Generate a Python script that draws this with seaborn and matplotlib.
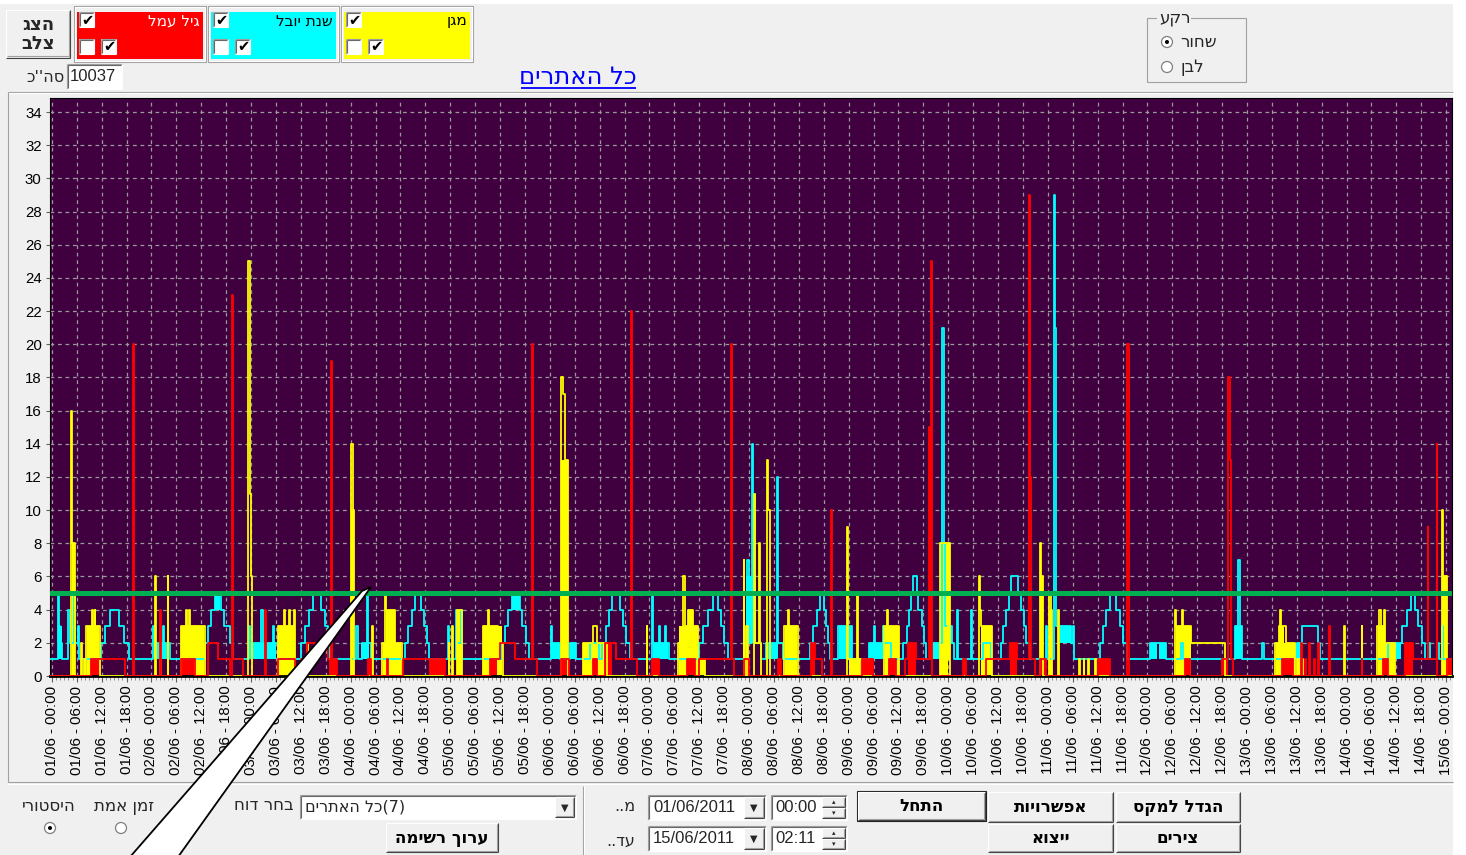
import matplotlib
matplotlib.use("Agg")
import matplotlib.pyplot as plt
from matplotlib.patches import Rectangle, Circle, Polygon
import numpy as np
import seaborn as sns

# ---- data (hours since 01/06 00:00) ----
# step change points (hour, value) for each site
cyan_steps = [(-0.5, 1),
    (1.4, 5), (1.6, 3), (2.0, 2), (2.4, 1), (4.0, 4), (4.3, 2), (5.3, 5), (5.6, 2), (6.2, 3), (6.6, 1),
    (11.8, 2), (12.8, 3), (13.9, 4), (16.2, 3), (17.3, 2), (18.6, 1),
    (24.3, 3), (24.6, 2), (26.7, 3), (27.0, 2), (28.5, 1),
    (36.8, 2), (37.6, 3), (38.3, 4), (39.2, 5), (40.7, 4), (41.6, 3), (42.9, 2), (43.6, 1),
    (47.4, 3), (47.7, 2), (50.5, 4), (50.8, 2), (53.2, 3), (53.5, 2), (54.4, 1),
    (60.0, 2), (61.0, 3), (62.0, 4), (63.0, 5), (64.8, 4), (65.8, 3), (66.5, 2), (67.0, 1),
    (73.4, 3), (73.7, 1), (74.8, 2), (75.9, 5), (76.2, 2), (76.8, 1),
    (85.0, 2), (85.8, 3), (86.7, 4), (87.4, 5), (88.9, 4), (89.6, 3), (90.3, 2), (91.0, 1),
    (95.5, 3), (95.8, 1), (97.4, 4), (97.7, 2), (98.6, 4), (98.9, 1),
    (108.4, 2), (109.1, 3), (109.8, 4), (110.8, 5), (112.7, 4), (113.4, 3), (114.2, 2), (115.0, 1),
    (120.3, 3), (120.6, 2), (122.5, 1), (124.8, 2), (126.4, 1), (129.6, 2), (131.8, 1),
    (132.5, 2), (133.5, 3), (134.3, 4), (135.0, 5), (136.8, 4), (137.7, 3), (138.4, 2), (139.2, 1),
    (144.5, 5), (144.8, 2), (146.3, 3), (146.6, 2), (147.8, 3), (148.1, 2), (148.6, 1),
    (156.0, 2), (157.0, 3), (158.2, 4), (159.4, 5), (160.6, 4), (161.3, 3), (162.0, 2), (163.0, 1),
    (166.9, 2), (167.6, 7), (167.9, 2), (168.6, 14), (168.9, 6), (169.2, 11), (169.4, 2), (171.0, 1),
    (172.0, 2), (174.8, 12), (175.1, 2), (176.2, 1),
    (182.6, 2), (183.4, 3), (184.3, 4), (185.0, 5), (186.0, 4), (186.6, 3), (187.0, 2), (187.6, 1),
    (189.5, 3), (192.7, 1), (196.8, 2), (198.0, 3), (198.3, 2), (200.2, 3), (200.5, 2), (202.3, 1),
    (205.2, 2), (206.0, 3), (206.5, 4), (207.1, 5), (207.6, 6), (208.4, 5), (208.8, 4), (209.6, 3), (210.1, 2), (210.7, 1),
    (211.7, 2), (214.6, 21), (214.9, 8), (215.2, 3), (217.0, 2), (217.3, 1), (218.0, 4), (218.3, 1),
    (221.5, 4), (221.8, 1), (224.5, 2), (226.2, 1),
    (228.6, 2), (229.3, 3), (230.0, 4), (230.6, 5), (231.2, 6), (232.9, 5), (233.5, 4), (234.2, 3), (234.8, 2), (235.8, 1),
    (239.6, 3), (239.9, 1), (241.4, 29), (241.7, 21), (241.9, 3), (245.7, 2), (246.0, 3), (246.3, 1),
    (252.6, 2), (253.3, 3), (254.0, 4), (255.0, 5), (256.5, 4), (257.5, 3), (258.2, 2), (259.0, 1),
    (264.7, 2), (268.5, 1), (272.0, 2), (272.6, 1), (285.0, 3), (285.9, 7), (286.2, 3), (286.8, 1),
    (291.6, 2), (292.0, 1), (300.0, 2), (301.3, 3), (305.0, 2), (305.6, 1),
    (322.0, 2), (325.4, 3), (326.6, 4), (327.5, 5), (328.4, 4), (329.3, 3), (330.2, 2), (331.0, 1),
    (331.7, 2), (332.2, 1), (333.8, 2), (334.3, 1), (335.0, 3), (335.3, 1), (338.0, 1)]

yellow_steps = [(-0.5, 0),
    (4.7, 16), (4.9, 8), (5.6, 0), (7.0, 2), (7.2, 0), (7.8, 1), (8.0, 0),
    (8.3, 3), (9.6, 4), (9.8, 3), (10.3, 4), (10.5, 3), (11.5, 0),
    (24.8, 6), (25.0, 0), (26.0, 2), (26.2, 0), (27.9, 6), (28.1, 0),
    (31.0, 3), (32.3, 4), (32.6, 3), (33.1, 4), (33.4, 3), (36.8, 0),
    (47.2, 25), (47.8, 11), (48.0, 6), (48.2, 0),
    (54.4, 3), (56.0, 4), (56.3, 3), (57.2, 4), (57.5, 3), (58.3, 4), (58.6, 0), (61.4, 2), (61.7, 0),
    (72.2, 14), (72.5, 10), (72.9, 0), (77.2, 3), (77.4, 0),
    (79.6, 2), (80.3, 5), (80.6, 4), (82.8, 2), (84.3, 0),
    (95.6, 2), (95.8, 0), (96.5, 3), (96.7, 0), (97.7, 4), (98.9, 0),
    (103.8, 3), (105.0, 4), (105.3, 3), (107.5, 2), (108.6, 0),
    (122.8, 18), (123.1, 17), (123.6, 13), (124.3, 0),
    (127.9, 2), (130.3, 3), (131.3, 2), (133.7, 0), (143.3, 3), (143.5, 0),
    (151.0, 2), (152.2, 6), (152.5, 3), (153.4, 4), (154.4, 3), (155.8, 0), (156.0, 1), (157.3, 0),
    (166.7, 7), (166.9, 0), (167.3, 3), (167.8, 0), (169.2, 11), (169.4, 2), (170.5, 8), (170.7, 2), (171.0, 0),
    (172.4, 13), (172.6, 10), (173.0, 0),
    (176.5, 3), (177.3, 4), (177.6, 3), (179.7, 0),
    (191.6, 9), (191.8, 1), (194.0, 5), (194.2, 1), (195.0, 0),
    (200.6, 3), (201.2, 4), (201.5, 3), (204.2, 0),
    (213.9, 8), (216.0, 1), (216.3, 8), (216.5, 0),
    (223.4, 6), (223.7, 4), (224.0, 3), (226.6, 0),
    (238.0, 8), (238.3, 6), (238.8, 0), (240.4, 5), (240.8, 4), (241.1, 0), (242.4, 4), (242.6, 0),
    (247.6, 1), (247.8, 0), (248.6, 1), (248.8, 0), (249.8, 1), (250.0, 0), (251.4, 1), (251.6, 0),
    (270.7, 4), (271.0, 3), (272.3, 4), (272.6, 3), (274.4, 2), (282.8, 0),
    (294.8, 2), (295.6, 3), (296.0, 4), (296.3, 3), (297.3, 2), (299.6, 0), (300.1, 1), (301.5, 0),
    (311.3, 3), (311.5, 0), (315.6, 3), (315.8, 0),
    (319.4, 3), (319.9, 4), (320.2, 3), (321.0, 4), (321.3, 2), (323.7, 0),
    (335.0, 10), (335.3, 6), (336.2, 0), (338.0, 0)]

red_steps = [(-0.5, 0),
    (9.4, 1), (17.6, 0), (19.5, 20), (19.8, 0), (26.1, 4), (26.3, 0),
    (31.0, 1), (34.5, 0), (37.6, 2), (40.0, 1), (43.0, 0), (43.4, 23), (43.7, 1), (46.0, 0),
    (51.4, 4), (51.6, 0), (54.4, 1), (58.5, 0),
    (60.0, 1), (61.5, 2), (66.5, 1), (67.2, 19), (67.5, 1), (68.6, 0),
    (76.1, 1), (77.0, 0), (80.7, 1), (81.0, 0), (84.5, 1), (94.7, 0),
    (105.5, 1), (107.9, 2), (111.5, 1), (115.6, 20), (115.9, 1), (117.0, 0),
    (122.6, 1), (124.6, 0), (130.3, 1), (131.4, 0), (133.2, 2), (136.0, 1), (139.5, 22), (139.8, 1), (141.0, 0),
    (144.5, 1), (146.2, 0), (153.0, 1), (154.9, 0),
    (156.0, 1), (163.6, 20), (163.9, 1), (164.3, 0), (166.7, 1), (167.9, 0), (174.9, 1), (175.8, 0),
    (183.0, 2), (184.0, 1), (185.5, 0), (187.8, 10), (188.1, 0),
    (195.3, 1), (197.8, 0), (201.8, 1), (203.5, 0),
    (205.5, 1), (206.2, 2), (208.3, 1), (211.3, 15), (211.6, 1), (211.8, 25), (212.1, 0),
    (219.6, 1), (220.4, 0), (225.2, 1), (231.0, 2), (232.5, 1), (235.4, 29), (235.8, 12), (236.0, 1), (237.0, 0),
    (238.2, 1), (239.6, 0), (252.2, 1), (255.0, 0), (259.2, 20), (259.5, 0),
    (273.0, 1), (274.3, 0), (282.0, 1), (283.5, 18), (283.8, 13), (284.1, 1), (284.6, 0),
    (296.5, 1), (299.0, 0),
    (301.0, 2), (301.2, 0), (302.0, 1), (302.2, 0), (303.0, 2), (303.2, 0), (304.1, 1), (304.3, 0),
    (305.2, 2), (305.4, 0), (307.7, 3), (307.9, 0), (315.6, 1), (315.8, 0),
    (320.8, 1), (322.0, 0), (326.1, 2), (328.0, 1), (331.5, 9), (331.7, 1), (333.7, 14), (333.9, 0),
    (336.3, 1), (338.0, 1)]

# dense stretches that render as solid blocks (start, end, low, high)
cyan_blocks = [(1.4, 2.4, 1, 3), (24.5, 28.0, 1, 2), (39.3, 40.6, 4, 5), (47.5, 54.0, 1, 2),
    (74.5, 76.5, 1, 2), (110.8, 112.7, 4, 5), (120.4, 122.4, 1, 2), (124.8, 126.4, 1, 2),
    (129.6, 131.6, 1, 2), (144.8, 148.5, 1, 2), (167.2, 169.6, 2, 6), (172.0, 175.0, 1, 2),
    (189.6, 192.7, 1, 3), (196.8, 202.0, 1, 2), (212.0, 214.5, 1, 2), (215.3, 217.0, 2, 3),
    (224.5, 226.2, 1, 2), (243.0, 245.7, 2, 3), (264.7, 266.2, 1, 2), (266.8, 268.4, 1, 2),
    (285.0, 286.8, 1, 3), (298.0, 301.3, 1, 2), (322.0, 325.0, 1, 2)]

yellow_blocks = [(4.8, 5.6, 0, 8), (8.4, 11.4, 0, 3), (31.1, 36.7, 0, 3), (54.5, 58.5, 0, 3),
    (72.2, 72.9, 0, 10), (79.7, 84.2, 0, 2), (80.4, 82.8, 2, 4), (97.7, 98.9, 0, 4),
    (104.0, 108.5, 0, 3), (122.8, 124.3, 0, 13), (128.0, 133.6, 0, 2), (151.2, 155.6, 0, 3),
    (153.4, 154.4, 3, 4), (156.0, 157.3, 0, 1), (167.3, 167.8, 0, 3), (176.6, 179.6, 0, 3),
    (192.0, 194.8, 0, 1), (200.7, 204.1, 0, 3), (214.0, 216.0, 0, 8), (224.0, 226.5, 0, 3),
    (238.0, 238.8, 0, 6), (240.4, 241.1, 0, 4), (270.8, 274.4, 0, 3), (295.0, 299.5, 0, 2),
    (295.6, 296.8, 2, 3), (300.1, 301.5, 0, 1), (319.5, 323.6, 0, 2), (319.5, 321.3, 2, 3),
    (335.0, 336.2, 0, 6)]

red_blocks = [(9.4, 11.8, 0, 1), (31.3, 34.3, 0, 1), (66.8, 68.6, 0, 1), (76.1, 77.0, 0, 1),
    (91.0, 94.7, 0, 1), (105.5, 107.2, 0, 1), (122.6, 124.6, 0, 1), (130.3, 131.4, 0, 1),
    (133.2, 135.0, 0, 2), (144.5, 146.2, 0, 1), (153.0, 154.9, 0, 1), (166.7, 167.9, 0, 1),
    (174.9, 175.8, 0, 1), (183.0, 184.0, 0, 2), (195.3, 197.8, 0, 1), (201.8, 203.5, 0, 1),
    (206.2, 208.3, 0, 2), (219.6, 220.4, 0, 1), (231.0, 232.5, 0, 2), (238.2, 239.6, 0, 1),
    (252.2, 255.0, 0, 1), (273.0, 274.3, 0, 1), (282.0, 283.5, 0, 1), (296.5, 299.0, 0, 1),
    (320.8, 322.0, 0, 1), (326.1, 328.0, 0, 2), (336.3, 337.3, 0, 1)]

threshold = 5
tick_days = ["01/06", "02/06", "03/06", "04/06", "05/06", "06/06", "07/06", "08/06",
             "09/06", "10/06", "11/06", "12/06", "13/06", "14/06", "15/06"]
tick_hours = ["00:00", "06:00", "12:00", "18:00"]
site_names = ["גיל עמל", "שנת יובל", "מגן"]
site_colors = ["#ff0000", "#00ffff", "#ffff00"]
total_count = "10037"

HEB = ["DejaVu Sans"]
NUM = ["Liberation Sans", "DejaVu Sans"]

sns.set_theme(style="white")
plt.rcParams["font.family"] = HEB


def rtl(s):
    # matplotlib lays glyphs out left to right, so flip Hebrew runs for display
    return s[::-1]


fig = plt.figure(figsize=(14.66, 8.55), dpi=100, facecolor="white")

# ---- window chrome in pixel coordinates ----
ui = fig.add_axes([0, 0, 1, 1], zorder=0)
ui.set_xlim(0, 1466)
ui.set_ylim(855, 0)
ui.axis("off")
ui.add_patch(Rectangle((0, 4), 1453, 851, fc="#f0f0f0", ec="none"))


def hl(x0, x1, y, c, lw=0.8):
    ui.plot([x0, x1], [y, y], color=c, lw=lw, solid_capstyle="butt")


def vl(x, y0, y1, c, lw=0.8):
    ui.plot([x, x], [y0, y1], color=c, lw=lw, solid_capstyle="butt")


def button(x0, y0, x1, y1, label, size=12, default=False):
    ui.add_patch(Rectangle((x0, y0), x1 - x0, y1 - y0, fc="#f0f0f0", ec="none"))
    hl(x0, x1, y0, "white"); vl(x0, y0, y1, "white")
    hl(x0, x1, y1, "#404040"); vl(x1, y0, y1, "#404040")
    hl(x0 + 1, x1 - 1, y1 - 1.5, "#a0a0a0"); vl(x1 - 1.5, y0 + 1, y1 - 1, "#a0a0a0")
    if default:
        ui.add_patch(Rectangle((x0 - 1, y0 - 1), x1 - x0 + 2, y1 - y0 + 2, fc="none", ec="#202020", lw=0.8))
    ui.text((x0 + x1) / 2, (y0 + y1) / 2, label, ha="center", va="center",
            fontsize=size, fontweight="bold", family=HEB, color="black")


def field(x0, y0, x1, y1, fc="white"):
    ui.add_patch(Rectangle((x0, y0), x1 - x0, y1 - y0, fc=fc, ec="none"))
    hl(x0, x1, y0, "#a0a0a0"); vl(x0, y0, y1, "#a0a0a0")
    hl(x0 + 1, x1 - 1, y0 + 1, "#696969"); vl(x0 + 1, y0 + 1, y1 - 1, "#696969")
    hl(x0, x1, y1, "white"); vl(x1, y0, y1, "white")


def checkbox(x, y, checked, s=14):
    field(x, y, x + s, y + s)
    if checked:
        ui.text(x + s / 2 + 0.5, y + s / 2 + 0.5, "✔", ha="center", va="center",
                fontsize=10.5, color="black", family=["DejaVu Sans"])


def radio(cx, cy, checked):
    ui.add_patch(Circle((cx, cy), 5.5, fc="white", ec="#808080", lw=0.9))
    if checked:
        ui.add_patch(Circle((cx, cy), 2.0, fc="black", ec="none"))


# top-left button
button(6, 10, 70, 58, "")
ui.text(38, 25, rtl("הצג"), ha="center", va="center", fontsize=13, fontweight="bold")
ui.text(38, 44, rtl("צלב"), ha="center", va="center", fontsize=13, fontweight="bold")

# site legend panels
panel_x = [(74, 206), (208, 339), (341, 473)]
text_colors = ["white", "black", "black"]
for (x0, x1), col, name, tc in zip(panel_x, site_colors, site_names, text_colors):
    ui.add_patch(Rectangle((x0, 6), x1 - x0, 56, fc="none", ec="#a0a0a0", lw=0.8))
    ui.add_patch(Rectangle((x0 + 1, 7), x1 - x0 - 2, 54, fc="none", ec="white", lw=0.8))
    ui.add_patch(Rectangle((x0 + 3, 12), x1 - x0 - 6, 47, fc=col, ec="none"))
    checkbox(x0 + 5, 12, True, s=15)
    checkbox(x0 + 5, 39, False, s=15)
    checkbox(x0 + 27, 39, True, s=15)
    ui.text(x1 - 6, 21, rtl(name), ha="right", va="center", fontsize=11, color=tc)

# total field
ui.text(65, 77, rtl("סה''כ"), ha="right", va="center", fontsize=11.5)
field(67, 64, 122, 89)
ui.text(70, 76.5, total_count, ha="left", va="center", fontsize=12, family=NUM)

# title link
ui.text(578, 77, rtl("כל האתרים"), ha="center", va="center", fontsize=17.5, color="#0000ff")
hl(521, 636, 88, "#0000ff", lw=1.3)

# background group box
ui.add_patch(Rectangle((1147, 18), 99, 64, fc="none", ec="#a0a0a0", lw=0.8))
ui.add_patch(Rectangle((1157, 10), 34, 16, fc="#f0f0f0", ec="none"))
ui.text(1159, 18, rtl("רקע"), ha="left", va="center", fontsize=12)
radio(1167, 42, True)
ui.text(1180, 42, rtl("שחור"), ha="left", va="center", fontsize=12)
radio(1167, 67, False)
ui.text(1180, 67, rtl("לבן"), ha="left", va="center", fontsize=12)

# chart frame
hl(8, 1453, 92, "#a0a0a0"); hl(8, 1453, 93, "white")
vl(8, 92, 782, "#a0a0a0")
hl(8, 1453, 782, "#a0a0a0"); hl(8, 1453, 784, "white")
ui.add_patch(Rectangle((1453, 0), 13, 855, fc="white", ec="none"))

# bottom controls
ui.text(49, 806, rtl("היסטורי"), ha="center", va="center", fontsize=12)
radio(50, 828, True)
ui.text(124, 806, rtl("זמן אמת"), ha="center", va="center", fontsize=12)
radio(121, 828, False)
ui.text(294, 805, rtl("בחר דוח"), ha="right", va="center", fontsize=12)
field(300, 795, 576, 819)
ui.text(305, 807, rtl("כל האתרים") + "(7)", ha="left", va="center", fontsize=11.5)
button(555, 797, 574, 817, "")
ui.text(564.5, 807.5, "▼", ha="center", va="center", fontsize=7)
button(386, 823, 498, 852, rtl("ערוך רשימה"))
vl(583, 786, 855, "#a0a0a0"); vl(584, 786, 855, "white")

ui.text(635, 806, rtl("מ.."), ha="right", va="center", fontsize=11.5)
ui.text(635, 841, rtl("עד.."), ha="right", va="center", fontsize=11.5)
for y0, date, tm in [(795, "01/06/2011", "00:00"), (826, "15/06/2011", "02:11")]:
    field(648, y0, 766, y0 + 25)
    ui.text(653, y0 + 12.5, date, ha="left", va="center", fontsize=12, family=NUM)
    button(744, y0 + 2, 764, y0 + 23, "")
    ui.text(754, y0 + 13, "▼", ha="center", va="center", fontsize=7)
    field(771, y0, 847, y0 + 25)
    ui.text(775, y0 + 12.5, tm, ha="left", va="center", fontsize=12, family=NUM)
    button(822, y0 + 2, 845, y0 + 12, "")
    button(822, y0 + 13, 845, y0 + 23, "")
    ui.text(833.5, y0 + 7, "▴", ha="center", va="center", fontsize=5)
    ui.text(833.5, y0 + 18, "▾", ha="center", va="center", fontsize=5)

button(858, 792, 985, 820, rtl("התחל"), default=True)
button(988, 792, 1113, 822, rtl("אפשרויות"))
button(1116, 792, 1240, 822, rtl("הגדל למקס"))
button(988, 824, 1113, 852, rtl("ייצוא"))
button(1116, 824, 1240, 852, rtl("צירים"))

# ---- chart ----
ax = fig.add_axes([50 / 1466, 1 - 676 / 855, 1402 / 1466, 578 / 855], zorder=1)
ax.set_facecolor("#400040")
ax.set_xlim(-0.45, 337.4)
ax.set_ylim(0, 34.85)

tick_pos = np.arange(0, 337, 6)
tick_lab = [f"{d} - {h}" for d in tick_days for h in tick_hours][:len(tick_pos)]
ax.set_xticks(tick_pos)
ax.set_xticklabels(tick_lab, rotation=90, fontsize=10.8, family=NUM, color="black")
ax.set_xticks(np.arange(0, 338, 1), minor=True)
ax.set_yticks(np.arange(0, 35, 2))
ax.set_yticklabels([str(v) for v in range(0, 35, 2)], fontsize=10.8, family=NUM, color="black")
ax.tick_params(axis="x", which="major", length=4, width=0.8, color="#606060", pad=3, bottom=True)
ax.tick_params(axis="x", which="minor", length=3, width=0.6, color="#808080", bottom=True)
ax.tick_params(axis="y", length=3, width=0.8, color="#606060", pad=3, left=True)
ax.grid(True, which="major", color="#9a9a9a", lw=0.9, ls=(0, (3, 3)))
ax.set_axisbelow(True)
for sp in ax.spines.values():
    sp.set_color("black")
    sp.set_linewidth(0.8)
ax.spines["bottom"].set_linewidth(2.0)

for steps, blocks, col in [(cyan_steps, cyan_blocks, "#00ffff"),
                           (yellow_steps, yellow_blocks, "#ffff00"),
                           (red_steps, red_blocks, "#ff0000")]:
    for t0, t1, lo, hi in blocks:
        ax.fill_between([t0, t1], lo, hi, color=col, lw=0, zorder=2)
    t = [p[0] for p in steps]
    v = [p[1] for p in steps]
    sns.lineplot(x=t, y=v, ax=ax, color=col, lw=1.3, drawstyle="steps-post",
                 estimator=None, sort=False, legend=False, zorder=3)

ax.axhline(threshold, color="#00b050", lw=3.6, zorder=4)
ax.set_xlabel("")
ax.set_ylabel("")

# ---- callout pointer over everything ----
top = fig.add_axes([0, 0, 1, 1], zorder=5)
top.set_xlim(0, 1466)
top.set_ylim(855, 0)
top.axis("off")
top.patch.set_alpha(0)
top.add_patch(Polygon([(130, 857), (178, 857), (371, 587), (362, 591)], closed=True,
                      fc="white", ec="black", lw=1.3, zorder=6))

fig.savefig("out.png", dpi=100, facecolor=fig.get_facecolor())
